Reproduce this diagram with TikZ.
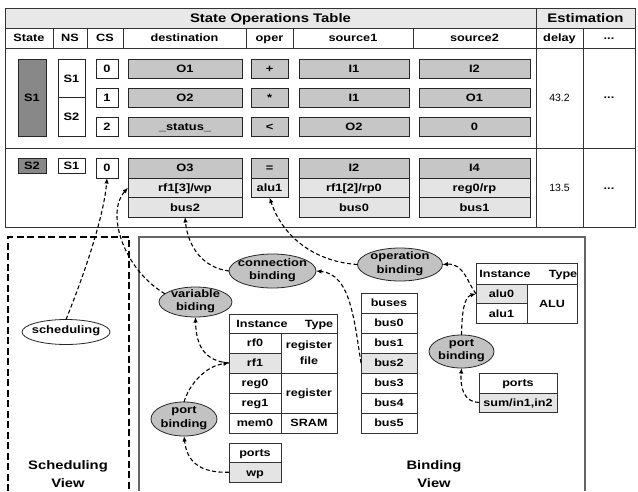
\documentclass[tikz,border=0pt]{standalone}
\usepackage{fontspec}
\setmainfont{Liberation Sans}[FakeStretch=1.2]
\newfontfamily\numfont{Liberation Sans}
\usetikzlibrary{shapes.geometric,arrows.meta}
\definecolor{stategray}{HTML}{888888}
\definecolor{cellgray}{HTML}{C6C6C6}
\definecolor{celllight}{HTML}{E4E4E4}
\definecolor{ellgray}{HTML}{C2C2C2}
\definecolor{titlegray}{HTML}{E8E8E8}
\definecolor{framegray}{HTML}{333333}
\begin{document}
\begin{tikzpicture}[x=1pt,y=-1pt,
  sz/.style 2 args={minimum width=#1pt, minimum height=#2pt},
  cellst/.style={draw=black!85, line width=0.8pt, inner sep=0pt, outer sep=0pt,
    font=\bfseries\fontsize{10.7}{12}\selectfont, text height=7.7pt, text depth=0pt, align=center},
  dark/.style={cellst, fill=stategray},
  mid/.style={cellst, fill=cellgray},
  lite/.style={cellst, fill=celllight},
  wht/.style={cellst, fill=white},
  tb/.style={draw=black!80, line width=0.9pt, inner sep=0pt, outer sep=0pt,
    font=\bfseries\fontsize{10.5}{16}\selectfont, align=center, text height=7.6pt, text depth=0pt, fill=white},
  tbl/.style={tb, fill=celllight},
  tbm/.style={draw=black!80, line width=0.9pt, inner sep=0pt, outer sep=0pt,
    font=\bfseries\fontsize{10.5}{16}\selectfont, align=center, fill=white},
  hd/.style={font=\bfseries\fontsize{10.6}{12}\selectfont, inner sep=0pt, text height=7.6pt, text depth=0pt},
  tt/.style={font=\bfseries\fontsize{12.4}{14}\selectfont, inner sep=0pt, text height=8.9pt, text depth=0pt},
  num/.style={font=\numfont\fontsize{10.5}{12}\selectfont, inner sep=0pt, text height=7.5pt, text depth=0pt},
  dots/.style={font=\bfseries\fontsize{10.6}{12}\selectfont, inner sep=0pt},
  ell/.style={ellipse, draw=black!85, line width=0.8pt, fill=ellgray, inner sep=0pt, outer sep=0pt},
  etx/.style={font=\bfseries\fontsize{10.8}{13.5}\selectfont, align=center, inner sep=0pt},
  vl/.style={font=\bfseries\fontsize{12.3}{18}\selectfont, align=center, inner sep=0pt},
  frame/.style={draw=framegray, line width=1pt},
  conn/.style={draw=black, line width=1.1pt, dash pattern=on 4pt off 2.5pt, -{Latex[length=5.5pt,width=4.5pt]}}
]
\useasboundingbox (0,0) rectangle (638,491);

% ---------- table frame ----------
\fill[titlegray] (5,8) rectangle (635,28);
\draw[frame] (5,8) rectangle (635,227);
\draw[frame] (5,28) -- (635,28);
\draw[frame] (5,48) -- (635,48);
\draw[frame] (5,148) -- (635,148);
\draw[frame] (536,8) -- (536,227);
\draw[frame] (583,28) -- (583,227);
\foreach \xx in {53,87,123,246,293,413} \draw[frame] (\xx,28) -- (\xx,48);

\node[tt] (ttl) at (270.5,18) {State Operations Table};
\node[tt] (est) at (585.5,18) {Estimation};

\node[hd] (hstate) at (29,38) {State};
\node[hd] (hns) at (70,38) {NS};
\node[hd] (hcs) at (105,38) {CS};
\node[hd] (hdest) at (184.5,38) {destination};
\node[hd] (hoper) at (269.5,38) {oper};
\node[hd] (hs1) at (353,38) {source1};
\node[hd] (hs2) at (474.5,38) {source2};
\node[hd] (hdelay) at (559.5,38) {delay};
\node[dots] (hdots) at (609,39) {...};

% ---------- state S1 ----------
\node[dark, sz={28}{77}] (st1) at (32,97.5) {S1};
\node[wht, sz={27}{38.5}] (ns1a) at (71.5,78.25) {S1};
\node[wht, sz={27}{38.5}] (ns1b) at (71.5,116.75) {S2};
\node[wht, sz={22}{19}] (cs0) at (107,68.5) {0};
\node[wht, sz={22}{19}] (cs1) at (107,97.5) {1};
\node[wht, sz={22}{19}] (cs2) at (107,127) {2};
\node[mid, sz={114}{19}] (d0) at (185,68.5) {O1};
\node[mid, sz={114}{19}] (d1) at (185,97.5) {O2};
\node[mid, sz={114}{19}] (d2) at (185,127) {\_status\_};
\node[mid, sz={37}{19}] (o0) at (269.5,68.5) {+};
\node[mid, sz={37}{19}] (o1) at (269.5,97.5) {*};
\node[mid, sz={37}{19}] (o2) at (269.5,127) {<};
\node[mid, sz={110}{19}] (a0) at (354,68.5) {I1};
\node[mid, sz={110}{19}] (a1) at (354,97.5) {I1};
\node[mid, sz={110}{19}] (a2) at (354,127) {O2};
\node[mid, sz={111}{19}] (b0) at (474.5,68.5) {I2};
\node[mid, sz={111}{19}] (b1) at (474.5,97.5) {O1};
\node[mid, sz={111}{19}] (b2) at (474.5,127) {0};
\node[num] (dl1) at (559.5,97.5) {43.2};
\node[dots] (dt1) at (609,98) {...};

% ---------- state S2 ----------
\node[dark, sz={28}{15}] (st2) at (32,165.5) {S2};
\node[wht, sz={27}{15}] (ns2) at (71.5,165.5) {S1};
\node[wht, sz={22}{20}] (cs3) at (107,168) {0};
\node[mid, sz={114}{20}] (dd0) at (185,168) {O3};
\node[lite, sz={114}{19.5}] (dd1) at (185,187.75) {rf1[3]/wp};
\node[lite, sz={114}{19.5}] (dd2) at (185,207.25) {bus2};
\node[mid, sz={37}{20}] (oo0) at (269.5,168) {=};
\node[lite, sz={37}{19.5}] (oo1) at (269.5,187.75) {alu1};
\node[mid, sz={110}{20}] (s10) at (354,168) {I2};
\node[lite, sz={110}{19.5}] (s11) at (354,187.75) {rf1[2]/rp0};
\node[lite, sz={110}{19.5}] (s12) at (354,207.25) {bus0};
\node[mid, sz={111}{20}] (s20) at (474.5,168) {I4};
\node[lite, sz={111}{19.5}] (s21) at (474.5,187.75) {reg0/rp};
\node[lite, sz={111}{19.5}] (s22) at (474.5,207.25) {bus1};
\node[num] (dl2) at (559.5,188) {13.5};
\node[dots] (dt2) at (609,189) {...};

% ---------- views ----------
\draw[line width=1.5pt, dash pattern=on 7pt off 3.5pt] (8,491) -- (8,237) -- (129,237) -- (129,491);
\draw[draw=black!60, line width=1.1pt] (139,491) -- (139,237) -- (585,237) -- (585,491);
\node[vl] (sv) at (68,474) {Scheduling\\View};
\node[vl] (bv) at (434,474) {Binding\\View};

% ---------- register table ----------
\node[tb, sz={108}{19}] (rhdr) at (283,323.5) {};
\node[tb, fill=none, draw=none] (rhi) at (262,323.5) {Instance};
\node[tb, fill=none, draw=none] (rht) at (319,323.5) {Type};
\node[tb, sz={52}{20}] (rf0) at (255,343) {rf0};
\node[tbl, sz={52}{20}] (rf1) at (255,363) {rf1};
\node[tb, sz={52}{20}] (reg0) at (255,383) {reg0};
\node[tb, sz={52}{20}] (reg1) at (255,403) {reg1};
\node[tb, sz={52}{20}] (mem0) at (255,423) {mem0};
\node[tbm, sz={56}{40}] (ty1) at (309,353) {register\\file};
\node[tb, sz={56}{40}] (ty2) at (309,393) {register};
\node[tb, sz={56}{20}] (ty3) at (309,423) {SRAM};

\node[tb, sz={52}{19.5}] (pL) at (255,452.75) {ports};
\node[tbl, sz={52}{19.5}] (wp) at (255,472.25) {wp};

% ---------- buses ----------
\node[tb, sz={56}{20}] (bh) at (389,303) {buses};
\node[tb, sz={56}{20}] (bus0) at (389,323) {bus0};
\node[tb, sz={56}{20}] (bus1) at (389,343) {bus1};
\node[tbl, sz={56}{20}] (bus2) at (389,363) {bus2};
\node[tb, sz={56}{20}] (bus3) at (389,383) {bus3};
\node[tb, sz={56}{20}] (bus4) at (389,403) {bus4};
\node[tb, sz={56}{20}] (bus5) at (389,423) {bus5};

% ---------- ALU table ----------
\node[tb, sz={101}{21}] (ahdr) at (526.5,273.5) {};
\node[tb, fill=none, draw=none] (ahi) at (505,273.5) {Instance};
\node[tb, fill=none, draw=none] (aht) at (563,273.5) {Type};
\node[tbl, sz={51}{19.5}] (alu0) at (501.5,293.75) {alu0};
\node[tb, sz={51}{19.5}] (alu1) at (501.5,313.25) {alu1};
\node[tb, sz={50}{39}] (aluc) at (552,303.5) {ALU};

\node[tb, sz={78}{20}] (pR) at (518,383) {ports};
\node[tbl, sz={78}{19}] (sum) at (518,402.5) {sum/in1,in2};

% ---------- ellipses ----------
\node[ell, fill=white, sz={88}{25}] (sched) at (66,332) {};
\node[etx] (schedt) at (66,331) {scheduling};
\node[ell, sz={73}{30}] (vb) at (195.5,302) {};
\node[etx] (vbt) at (195.5,301) {variable\\biding};
\node[ell, sz={87}{34}] (cb) at (272.5,271) {};
\node[etx] (cbt) at (272.5,270) {connection\\binding};
\node[ell, sz={85}{33}] (ob) at (400,264.5) {};
\node[etx] (obt) at (400,263.5) {operation\\binding};
\node[ell, sz={66}{34}] (pbL) at (184,419) {};
\node[etx] (pbLt) at (184,418) {port\\binding};
\node[ell, sz={65}{33}] (pbR) at (461.5,351.5) {};
\node[etx] (pbRt) at (461.5,350.5) {port\\binding};

% ---------- connectors ----------
\draw[conn] (sched.north) .. controls (86,270) and (104,215) .. (cs3.south);
\draw[conn] (vb.165) .. controls (122,268) and (106,212) .. (dd1.west);
\draw[conn] (rf1.west) .. controls (204,361) and (196,345) .. (vb.south);
\draw[conn] (pbL.north) .. controls (189,385) and (205,366) .. (rf1.west);
\draw[conn] (wp.west) .. controls (200,473) and (187,462) .. (pbL.south);
\draw[conn] (bus2.west) .. controls (354,318) and (350,274) .. (cb.east);
\draw[conn] (cb.west) .. controls (204,268) and (188,248) .. (dd2.south);
\draw[conn] (alu0.west) .. controls (468,284) and (464,263) .. (ob.east);
\draw[conn] (ob.west) .. controls (318,262) and (284,240) .. (oo1.south);
\draw[conn] (pbR.north) .. controls (462,312) and (464,297) .. (alu0.west);
\draw[conn] (sum.west) .. controls (465,402) and (460,390) .. (pbR.south);
\end{tikzpicture}
\end{document}
